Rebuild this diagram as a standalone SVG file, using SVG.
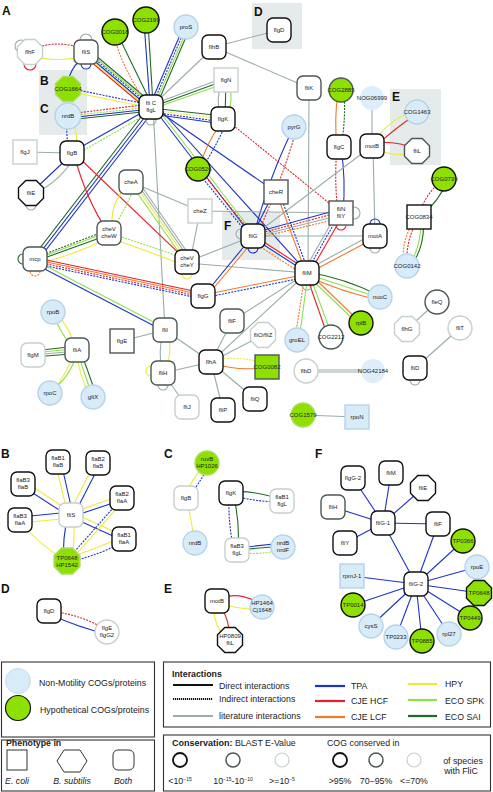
<svg xmlns="http://www.w3.org/2000/svg" xmlns:xlink="http://www.w3.org/1999/xlink" width="493" height="792" viewBox="0 0 493 792">
<style>
.n{fill:#fff;stroke-width:1.4}
.k{stroke:#111}
.m{stroke:#4d5856}
.w{stroke:#c6d0ce}
.lb{fill:#d8ebf8;stroke:#b7d3e8}
.nb{fill:#ddeefa;stroke:none}
.gr{fill:#8ee000}
.gl{stroke:#b0dc68}
.t{font-family:"Liberation Sans",Arial,sans-serif;font-size:6px;fill:#222;text-anchor:middle}
.P{font-family:"Liberation Sans",Arial,sans-serif;font-weight:bold;font-size:12px;fill:#111}
.L{font-family:"Liberation Sans",Arial,sans-serif;font-size:8.8px;fill:#222}
.e{fill:none;stroke-width:1.1}
.tpa{stroke:#1e34c4}
.hcf{stroke:#e52229}
.lcf{stroke:#f07a2c}
.hpy{stroke:#eeea3c}
.spk{stroke:#8fe04c}
.sai{stroke:#206a26}
.lit{stroke:#9aadaa}
.ds{stroke-dasharray:2 1.2}
.box{fill:#e5ebeb}
</style>
<defs>
<rect id="rs" x="-12" y="-12" width="24" height="24" rx="6"/>
<rect id="sq" x="-12" y="-12" width="24" height="24"/>
<polygon id="oct" points="-5.2,-12.5 5.2,-12.5 12.5,-5.2 12.5,5.2 5.2,12.5 -5.2,12.5 -12.5,5.2 -12.5,-5.2"/>
</defs>
<rect width="493" height="792" fill="#fff"/>
<g id="panels">
<rect class="box" x="252" y="3" width="50" height="46"/>
<rect class="box" x="39" y="70" width="48" height="65"/>
<rect class="box" x="390" y="89" width="51" height="76"/>
<rect class="box" x="222" y="212" width="58" height="48"/>
<text class="P" x="2" y="15">A</text>
<text class="P" x="40" y="85" font-size="11">B</text>
<text class="P" x="40" y="113" font-size="11">C</text>
<text class="P" x="254" y="16" font-size="11">D</text>
<text class="P" x="392" y="101" font-size="11">E</text>
<text class="P" x="224" y="230" font-size="11">F</text>
<text class="P" x="1" y="458">B</text>
<text class="P" x="164" y="458">C</text>
<text class="P" x="1" y="593">D</text>
<text class="P" x="164" y="593">E</text>
<text class="P" x="315" y="458">F</text>
</g>
<g id="connectors">
<path class="e hcf ds" d="M30,50 Q58,38 86,50"/>
<path class="e hpy" d="M30,55 Q58,64 86,55"/>
<circle class="e lit" cx="21" cy="46" r="6"/>
<circle class="e hcf" cx="30" cy="64" r="6"/>
<circle class="e lit" cx="86" cy="40" r="6"/>
<circle class="e tpa" cx="86" cy="64" r="5"/>
<path class="e tpa" d="M80,60 Q70,70 68,82"/>
<line class="e hcf" x1="83" y1="55" x2="148" y2="110"/>
<line class="e hpy" x1="84" y1="54" x2="149" y2="109"/>
<line class="e tpa" x1="85" y1="53" x2="150" y2="108"/>
<line class="e tpa ds" x1="86" y1="51.5" x2="151" y2="106.5"/>
<line class="e spk" x1="87" y1="50.5" x2="152" y2="105.5"/>
<line class="e sai" x1="88" y1="49" x2="153" y2="104"/>
<path class="e lcf ds" d="M113,34 Q125,75 149,106"/>
<line class="e sai" x1="117" y1="33" x2="152" y2="105"/>
<line class="e tpa" x1="144" y1="22" x2="150" y2="105"/>
<line class="e sai" x1="148" y1="22" x2="153" y2="105"/>
<line class="e tpa" x1="183" y1="28" x2="150" y2="105"/>
<line class="e tpa ds" x1="185" y1="29" x2="152" y2="106"/>
<line class="e spk" x1="187" y1="30" x2="154" y2="106"/>
<line class="e sai" x1="189" y1="30" x2="156" y2="107"/>
<line class="e lit" x1="214" y1="47" x2="151" y2="107"/>
<line class="e lit" x1="214" y1="47" x2="279" y2="30"/>
<line class="e lit" x1="214" y1="47" x2="309" y2="88"/>
<line class="e lit" x1="309" y1="88" x2="308" y2="273"/>
<line class="e lit" x1="226" y1="77" x2="151" y2="105"/>
<line class="e sai" x1="226" y1="80" x2="152" y2="107"/>
<line class="e spk" x1="226" y1="83" x2="152" y2="109"/>
<path class="e lit" d="M222,80 Q215,100 221,119"/>
<line class="e sai" x1="226" y1="80" x2="225" y2="119"/>
<path class="e spk" d="M229,80 Q234,100 227,119"/>
<line class="e sai" x1="223" y1="116" x2="151" y2="108"/>
<line class="e hpy ds" x1="223" y1="119" x2="151" y2="110"/>
<line class="e tpa ds" x1="223" y1="122" x2="151" y2="112"/>
<line class="e tpa" x1="223" y1="124" x2="152" y2="114"/>
<line class="e tpa ds" x1="68" y1="88" x2="151" y2="105"/>
<line class="e hpy" x1="68" y1="91" x2="151" y2="108"/>
<line class="e hcf ds" x1="68" y1="114" x2="151" y2="104"/>
<line class="e spk ds" x1="68" y1="116" x2="151" y2="107"/>
<line class="e tpa" x1="68" y1="118" x2="151" y2="109"/>
<line class="e sai" x1="68" y1="120" x2="151" y2="111"/>
<line class="e tpa ds" x1="66" y1="118" x2="68" y2="153"/>
<path class="e hpy" d="M71,118 Q80,135 75,153"/>
<line class="e lit" x1="25" y1="152" x2="72" y2="153"/>
<path class="e tpa" d="M70,156 Q55,170 32,192"/>
<path class="e lit" d="M74,157 Q62,180 34,194"/>
<circle class="e lit" cx="31" cy="205" r="5"/>
<line class="e tpa" x1="150" y1="108" x2="72" y2="152"/>
<line class="e spk ds" x1="152" y1="111" x2="74" y2="156"/>
<line class="e sai" x1="148" y1="108" x2="33" y2="257"/>
<line class="e tpa" x1="151" y1="109" x2="36" y2="258"/>
<line class="e tpa" x1="154" y1="110" x2="39" y2="259"/>
<line class="e lit" x1="153" y1="107" x2="165" y2="330"/>
<circle class="e lit" cx="151" cy="120" r="5"/>
<line class="e tpa" x1="155" y1="110" x2="251" y2="235"/>
<line class="e spk" x1="157" y1="108" x2="253" y2="233"/>
<line class="e tpa" x1="158" y1="107" x2="306" y2="271"/>
<line class="e tpa" x1="157" y1="110" x2="276" y2="192"/>
<path class="e lcf" d="M219,126 Q206,145 199,168"/>
<path class="e tpa ds" d="M225,126 Q214,150 202,168"/>
<line class="e hcf ds" x1="228" y1="121" x2="340" y2="212"/>
<line class="e hcf ds" x1="200" y1="170" x2="253" y2="235"/>
<line class="e tpa ds" x1="197" y1="171" x2="250" y2="237"/>
<path class="e tpa" d="M292,131 Q270,175 254,234"/>
<path class="e hcf ds" d="M296,131 Q282,180 257,235"/>
<path class="e hcf" d="M74,154 Q86,200 108,232"/>
<line class="e hcf" x1="74" y1="153" x2="187" y2="261"/>
<line class="e lit" x1="131" y1="182" x2="200" y2="211"/>
<path class="e hpy" d="M127,186 Q108,205 113,232"/>
<path class="e spk ds" d="M135,186 Q125,210 111,232"/>
<line class="e spk" x1="131" y1="184" x2="185" y2="261"/>
<line class="e hpy" x1="134" y1="183" x2="188" y2="261"/>
<line class="e lit" x1="136" y1="182" x2="190" y2="260"/>
<line class="e lit" x1="138" y1="181" x2="192" y2="259"/>
<line class="e lit" x1="200" y1="211" x2="190" y2="262"/>
<line class="e lit" x1="200" y1="211" x2="341" y2="213"/>
<line class="e sai ds" x1="108" y1="230" x2="37" y2="257"/>
<line class="e spk" x1="108" y1="232" x2="36" y2="259"/>
<line class="e sai" x1="108" y1="235" x2="36" y2="261"/>
<path class="e hpy" d="M110,237 Q75,255 37,264"/>
<line class="e spk ds" x1="110" y1="233" x2="187" y2="259"/>
<path class="e hpy" d="M110,238 Q150,252 186,266"/>
<line class="e hcf" x1="37" y1="258" x2="203" y2="293"/>
<line class="e lcf" x1="37" y1="260" x2="203" y2="295"/>
<line class="e hcf ds" x1="37" y1="262" x2="203" y2="297"/>
<line class="e tpa ds" x1="37" y1="264" x2="203" y2="299"/>
<line class="e tpa" x1="37" y1="265" x2="164" y2="331"/>
<line class="e spk" x1="38" y1="262" x2="165" y2="328"/>
<circle class="e sai" cx="23" cy="259" r="5"/>
<circle class="e lcf ds" cx="35" cy="271" r="5"/>
<circle class="e hpy" cx="187" cy="274" r="5"/>
<line class="e lit" x1="187" y1="262" x2="253" y2="236"/>
<line class="e lit" x1="187" y1="263" x2="307" y2="273"/>
<line class="e tpa" x1="205" y1="294" x2="251" y2="238"/>
<line class="e lcf" x1="207" y1="296" x2="254" y2="240"/>
<line class="e lcf" x1="203" y1="295" x2="307" y2="274"/>
<line class="e tpa ds" x1="203" y1="298" x2="307" y2="277"/>
<circle class="e tpa" cx="253" cy="248" r="5"/>
<circle class="e lit" cx="241" cy="234" r="5"/>
<line class="e tpa" x1="253" y1="233" x2="341" y2="209"/>
<line class="e hcf ds" x1="253" y1="235" x2="341" y2="212"/>
<line class="e lit" x1="253" y1="237" x2="341" y2="215"/>
<line class="e lcf ds" x1="253" y1="239" x2="341" y2="218"/>
<line class="e lit" x1="253" y1="236" x2="375" y2="236"/>
<line class="e tpa" x1="253" y1="238" x2="306" y2="272"/>
<line class="e hcf" x1="256" y1="237" x2="309" y2="271"/>
<line class="e lcf ds" x1="250" y1="240" x2="304" y2="275"/>
<circle class="e lit" cx="354" cy="213" r="6"/>
<circle class="e hcf" cx="341" cy="225" r="5"/>
<line class="e tpa ds" x1="340" y1="213" x2="306" y2="273"/>
<line class="e hcf" x1="343" y1="215" x2="309" y2="274"/>
<line class="e lit" x1="337" y1="213" x2="304" y2="271"/>
<path class="e hcf ds" d="M337,148 Q334,180 338,212"/>
<path class="e tpa" d="M341,148 Q346,180 343,212"/>
<path class="e lcf" d="M338,92 Q334,120 337,146"/>
<path class="e sai ds" d="M344,92 Q346,120 341,146"/>
<line class="e lit" x1="372" y1="98" x2="372" y2="146"/>
<path class="e hpy" d="M374,142 Q390,118 417,110"/>
<path class="e hcf" d="M376,146 Q395,128 417,114"/>
<path class="e hcf" d="M372,143 Q395,140 417,149"/>
<path class="e hpy" d="M372,148 Q395,158 417,153"/>
<line class="e lit" x1="373" y1="146" x2="375" y2="236"/>
<line class="e lit" x1="372" y1="146" x2="253" y2="236"/>
<circle class="e tpa" cx="375" cy="224" r="5"/>
<circle class="e lit" cx="375" cy="248" r="5"/>
<line class="e lcf" x1="375" y1="238" x2="307" y2="274"/>
<line class="e lit" x1="373" y1="234" x2="305" y2="271"/>
<line class="e lcf" x1="276" y1="192" x2="306" y2="273"/>
<line class="e tpa ds" x1="279" y1="192" x2="309" y2="273"/>
<line class="e tpa" x1="274" y1="192" x2="252" y2="236"/>
<path class="e sai" d="M307,272 Q345,278 380,296"/>
<line class="e spk" x1="307" y1="274" x2="380" y2="298"/>
<path class="e lcf" d="M307,276 Q342,292 379,300"/>
<line class="e lcf" x1="308" y1="272" x2="360" y2="322"/>
<line class="e spk" x1="306" y1="274" x2="358" y2="324"/>
<line class="e hcf" x1="306" y1="274" x2="328" y2="337"/>
<line class="e spk" x1="309" y1="273" x2="332" y2="336"/>
<line class="e lcf ds" x1="305" y1="274" x2="295" y2="339"/>
<line class="e spk" x1="308" y1="274" x2="299" y2="340"/>
<line class="e lit" x1="307" y1="273" x2="232" y2="321"/>
<line class="e lit" x1="307" y1="273" x2="211" y2="362"/>
<circle class="e lit" cx="307" cy="285" r="5"/>
<path class="e hcf ds" d="M441,181 Q425,195 418,216"/>
<path class="e sai" d="M447,181 Q440,200 421,216"/>
<path class="e lcf ds" d="M416,218 Q400,240 404,266"/>
<path class="e hcf ds" d="M418,218 Q405,242 407,266"/>
<path class="e spk" d="M421,218 Q422,245 409,266"/>
<path class="e sai" d="M423,218 Q426,245 411,266"/>
<path class="e hpy" d="M55,312 Q72,330 76,350"/>
<path class="e spk" d="M52,313 Q62,335 74,350"/>
<line class="e sai" x1="33" y1="351" x2="77" y2="346"/>
<line class="e spk" x1="33" y1="353" x2="77" y2="348.5"/>
<line class="e lit" x1="33" y1="355" x2="77" y2="351"/>
<line class="e sai" x1="33" y1="357" x2="77" y2="353.5"/>
<path class="e hpy" d="M76,351 Q65,375 53,392"/>
<path class="e spk" d="M78,351 Q70,378 50,392"/>
<path class="e hpy" d="M76,351 Q80,378 90,396"/>
<path class="e spk" d="M78,351 Q85,378 93,396"/>
<path class="e sai" d="M80,351 Q90,375 96,396"/>
<line class="e lit" x1="122" y1="341" x2="165" y2="330"/>
<path class="e lit" d="M163,330 Q158,352 162,373"/>
<path class="e hpy" d="M167,330 Q174,352 164,373"/>
<circle class="e hpy" cx="151" cy="371" r="5"/>
<circle class="e lit" cx="163" cy="385" r="5"/>
<line class="e lit" x1="163" y1="373" x2="211" y2="362"/>
<line class="e lit" x1="163" y1="373" x2="187" y2="407"/>
<line class="e lit" x1="165" y1="330" x2="211" y2="362"/>
<line class="e lit" x1="211" y1="362" x2="232" y2="321"/>
<line class="e lit" x1="211" y1="362" x2="223" y2="410"/>
<line class="e lit" x1="211" y1="362" x2="255" y2="399"/>
<line class="e lit" x1="211" y1="362" x2="263" y2="335"/>
<path class="e lcf" d="M211,363 Q240,372 267,367"/>
<path class="e hpy ds" d="M211,360 Q240,355 267,364"/>
<line class="e lit" x1="306" y1="370" x2="373" y2="370"/>
<line class="e lit" x1="306" y1="372" x2="373" y2="372"/>
<circle class="e lit" cx="415" cy="380" r="5"/>
<line class="e lit" x1="415" y1="368" x2="460" y2="328"/>
<line class="e lit" x1="437" y1="302" x2="407" y2="329"/>
<line class="e lit" x1="303" y1="415" x2="357" y2="417"/>
<!-- B -->
<line class="e hpy" x1="68" y1="515" x2="55" y2="462"/>
<line class="e tpa" x1="73" y1="515" x2="61" y2="462"/>
<line class="e hpy" x1="69" y1="514" x2="95" y2="462"/>
<line class="e tpa" x1="74" y1="515" x2="100" y2="464"/>
<line class="e hpy" x1="71" y1="512" x2="24" y2="481"/>
<line class="e tpa" x1="70" y1="517" x2="22" y2="486"/>
<line class="e hpy" x1="71" y1="513" x2="122" y2="495"/>
<line class="e tpa" x1="71" y1="517" x2="122" y2="500"/>
<line class="e tpa" x1="71" y1="512" x2="20" y2="517"/>
<line class="e hpy" x1="71" y1="518" x2="20" y2="523"/>
<line class="e hpy" x1="71" y1="512" x2="124" y2="536"/>
<line class="e tpa" x1="71" y1="517" x2="124" y2="541"/>
<path class="e tpa" d="M68,515 Q62,540 64,561"/>
<path class="e hpy" d="M73,515 Q76,540 71,561"/>
<path class="e hpy" d="M66,561 Q40,545 20,522"/>
<path class="e tpa ds" d="M69,562 Q100,555 124,541"/>
<path class="e hpy" d="M68,558 Q98,548 122,537"/>
<line class="e tpa ds" x1="68" y1="559" x2="121" y2="499"/>
<line class="e hpy" x1="71" y1="560" x2="124" y2="500"/>
<!-- C -->
<path class="e hpy" d="M205,465 Q190,480 185,498"/>
<path class="e tpa ds" d="M209,466 Q198,485 189,497"/>
<line class="e hpy" x1="187" y1="498" x2="195" y2="543"/>
<path class="e sai" d="M231,492 Q255,490 282,500"/>
<path class="e tpa ds" d="M231,495 Q256,502 282,502"/>
<path class="e tpa ds" d="M229,494 Q228,525 234,549"/>
<path class="e sai" d="M233,494 Q240,520 238,549"/>
<line class="e tpa" x1="237" y1="548" x2="283" y2="543"/>
<line class="e sai" x1="237" y1="550" x2="283" y2="546"/>
<path class="e spk ds" d="M237,552 Q260,556 283,549"/>
<!-- D -->
<path class="e hcf ds" d="M49,611 Q80,614 107,630"/>
<path class="e tpa" d="M49,614 Q80,628 107,634"/>
<!-- E -->
<path class="e hcf" d="M217,599 Q240,590 262,605"/>
<path class="e hpy" d="M217,603 Q240,610 262,609"/>
<path class="e hcf" d="M219,603 Q230,620 230,640"/>
<path class="e hpy" d="M214,603 Q212,625 228,640"/>
<!-- F -->
<g class="e tpa">
<line x1="383" y1="523" x2="353" y2="478"/>
<line x1="383" y1="523" x2="391" y2="473"/>
<line x1="383" y1="523" x2="423" y2="488"/>
<line x1="383" y1="523" x2="333" y2="507"/>
<line x1="383" y1="523" x2="438" y2="524"/>
<line x1="383" y1="523" x2="345" y2="543"/>
<line x1="383" y1="523" x2="416" y2="584"/>
<line x1="416" y1="584" x2="463" y2="541"/>
<line x1="416" y1="584" x2="477" y2="567"/>
<line x1="416" y1="584" x2="352" y2="576"/>
<line x1="416" y1="584" x2="479" y2="593"/>
<line x1="416" y1="584" x2="353" y2="605"/>
<line x1="416" y1="584" x2="470" y2="618"/>
<line x1="416" y1="584" x2="371" y2="626"/>
<line x1="416" y1="584" x2="396" y2="637"/>
<line x1="416" y1="584" x2="422" y2="641"/>
<line x1="416" y1="584" x2="449" y2="634"/>
<line x1="416" y1="584" x2="438" y2="524"/>
</g>
</g>
<!-- Panel A nodes -->
<g id="flhF"><use href="#oct" x="30" y="52" class="n w"/><text class="t" x="30" y="54">flhF</text></g>
<g id="fliS"><use href="#rs" x="86" y="52" class="n m"/><text class="t" x="86" y="54">fliS</text></g>
<g id="COG0018"><circle cx="115" cy="32" r="13" class="n gr k"/><text class="t" x="115" y="34">COG0018</text></g>
<g id="COG2199"><circle cx="146" cy="20" r="13" class="n gr k"/><text class="t" x="146" y="22">COG2199</text></g>
<g id="proS"><circle cx="186" cy="27" r="12" class="n lb"/><text class="t" x="186" y="29">proS</text></g>
<g id="flhB"><use href="#rs" x="214" y="47" class="n k"/><text class="t" x="214" y="49">flhB</text></g>
<g id="flgD"><use href="#rs" x="279" y="30" class="n k"/><text class="t" x="279" y="32">flgD</text></g>
<g id="fliK"><use href="#rs" x="309" y="88" class="n m"/><text class="t" x="309" y="90">fliK</text></g>
<g id="COG2885"><circle cx="341" cy="90" r="12" class="n gr m"/><text class="t" x="341" y="92">COG2885</text></g>
<g id="NOG06999"><circle cx="372" cy="98" r="12" class="n nb"/><text class="t" x="372" y="100">NOG06999</text></g>
<g id="COG1463"><circle cx="417" cy="112" r="12" class="n lb"/><text class="t" x="417" y="114">COG1463</text></g>
<g id="fliL"><use href="#oct" x="417" y="151" class="n m"/><text class="t" x="417" y="153">fliL</text></g>
<g id="motB"><use href="#rs" x="372" y="146" class="n k"/><text class="t" x="372" y="148">motB</text></g>
<g id="flgC"><use href="#rs" x="339" y="147" class="n k"/><text class="t" x="339" y="149">flgC</text></g>
<g id="pyrG"><circle cx="294" cy="127" r="12" class="n lb"/><text class="t" x="294" y="129">pyrG</text></g>
<g id="flgN"><use href="#sq" x="226" y="80" class="n w"/><text class="t" x="226" y="82">flgN</text></g>
<g id="flgK"><use href="#rs" x="223" y="119" class="n k"/><text class="t" x="223" y="121">flgK</text></g>
<g id="fliC"><use href="#rs" x="151" y="107" class="n k"/><text class="t" x="151" y="105">fli C<tspan x="151" dy="7">flgL</tspan></text></g>
<g id="COG1664"><use href="#oct" x="68" y="89" class="n gr gl"/><text class="t" x="68" y="91">COG1664</text></g>
<g id="nrdB"><circle cx="68" cy="116" r="13" class="n lb"/><text class="t" x="68" y="118">nrdB</text></g>
<g id="flgJ"><use href="#sq" x="25" y="152" class="n w"/><text class="t" x="25" y="154">flgJ</text></g>
<g id="flgB"><use href="#rs" x="72" y="153" class="n k"/><text class="t" x="72" y="155">flgB</text></g>
<g id="fliE"><use href="#oct" x="31" y="193" class="n k"/><text class="t" x="31" y="195">fliE</text></g>
<g id="COG0526"><circle cx="198" cy="169" r="12" class="n gr k"/><text class="t" x="198" y="171">COG0526</text></g>
<g id="cheA"><use href="#rs" x="131" y="182" class="n m"/><text class="t" x="131" y="184">cheA</text></g>
<g id="cheZ"><use href="#sq" x="200" y="211" class="n w"/><text class="t" x="200" y="213">cheZ</text></g>
<g id="cheR"><use href="#sq" x="276" y="192" class="n m"/><text class="t" x="276" y="194">cheR</text></g>
<g id="fliN"><use href="#sq" x="341" y="213" class="n m" stroke-width="1.8"/><text class="t" x="341" y="211">fliN<tspan x="341" dy="7">fliY</tspan></text></g>
<g id="motA"><use href="#rs" x="375" y="236" class="n k"/><text class="t" x="375" y="238">motA</text></g>
<g id="fliG"><use href="#rs" x="253" y="236" class="n k"/><text class="t" x="253" y="238">fliG</text></g>
<g id="cheVW"><use href="#rs" x="109" y="233" class="n m"/><text class="t" x="109" y="231">cheV<tspan x="109" dy="7">cheW</tspan></text></g>
<g id="mcp"><use href="#rs" x="35" y="259" class="n m"/><text class="t" x="35" y="261">mcp</text></g>
<g id="cheVY"><use href="#rs" x="187" y="262" class="n k"/><text class="t" x="187" y="260">cheV<tspan x="187" dy="7">cheY</tspan></text></g>
<g id="flgG"><use href="#rs" x="203" y="296" class="n k"/><text class="t" x="203" y="298">flgG</text></g>
<g id="fliM"><use href="#rs" x="307" y="273" class="n k"/><text class="t" x="307" y="275">fliM</text></g>
<g id="COG0739"><circle cx="444" cy="179" r="12" class="n gr k"/><text class="t" x="444" y="181">COG0739</text></g>
<g id="COG0834"><use href="#sq" x="419" y="217" class="n k"/><text class="t" x="419" y="219">COG0834</text></g>
<g id="COG0142"><circle cx="407" cy="266" r="12" class="n lb"/><text class="t" x="407" y="268">COG0142</text></g>
<g id="nuoC"><circle cx="380" cy="297" r="12" class="n lb"/><text class="t" x="380" y="299">nuoC</text></g>
<g id="fleQ"><circle cx="437" cy="302" r="12" class="n m"/><text class="t" x="437" y="304">fleQ</text></g>
<g id="rpoB"><circle cx="53" cy="312" r="12" class="n lb"/><text class="t" x="53" y="314">rpoB</text></g>
<g id="flgM"><use href="#rs" x="33" y="355" class="n w"/><text class="t" x="33" y="357">flgM</text></g>
<g id="fliA"><use href="#rs" x="77" y="350" class="n m"/><text class="t" x="77" y="352">fliA</text></g>
<g id="rpoC"><circle cx="50" cy="393" r="12" class="n lb"/><text class="t" x="50" y="395">rpoC</text></g>
<g id="gltX"><circle cx="93" cy="397" r="12" class="n lb"/><text class="t" x="93" y="399">gltX</text></g>
<g id="flgE"><use href="#sq" x="122" y="341" class="n m"/><text class="t" x="122" y="343">flgE</text></g>
<g id="fliI"><use href="#rs" x="165" y="330" class="n m"/><text class="t" x="165" y="332">fliI</text></g>
<g id="fliH"><use href="#rs" x="163" y="373" class="n m"/><text class="t" x="163" y="375">fliH</text></g>
<g id="fliJ"><use href="#rs" x="187" y="407" class="n w"/><text class="t" x="187" y="409">fliJ</text></g>
<g id="flhA"><use href="#rs" x="211" y="362" class="n k"/><text class="t" x="211" y="364">flhA</text></g>
<g id="fliF"><use href="#rs" x="232" y="321" class="n m"/><text class="t" x="232" y="323">fliF</text></g>
<g id="fliP"><use href="#rs" x="223" y="410" class="n k"/><text class="t" x="223" y="412">fliP</text></g>
<g id="fliOZ"><use href="#oct" x="263" y="335" class="n w"/><text class="t" x="263" y="337">fliO/fliZ</text></g>
<g id="groEL"><circle cx="297" cy="340" r="12" class="n lb"/><text class="t" x="297" y="342">groEL</text></g>
<g id="COG2212"><circle cx="331" cy="337" r="12" class="n m"/><text class="t" x="331" y="339">COG2212</text></g>
<g id="rplB"><circle cx="361" cy="323" r="12" class="n gr k"/><text class="t" x="361" y="325">rplB</text></g>
<g id="COG0082"><use href="#sq" x="267" y="367" class="n gr m"/><text class="t" x="267" y="369">COG0082</text></g>
<g id="flbD"><circle cx="306" cy="371" r="12" class="n w"/><text class="t" x="306" y="373">flbD</text></g>
<g id="NOG42184"><circle cx="373" cy="371" r="12" class="n nb"/><text class="t" x="373" y="373">NOG42184</text></g>
<g id="fliD"><use href="#rs" x="415" y="368" class="n k"/><text class="t" x="415" y="370">fliD</text></g>
<g id="fliQ"><use href="#rs" x="255" y="399" class="n k"/><text class="t" x="255" y="401">fliQ</text></g>
<g id="COG1579"><circle cx="303" cy="415" r="12" class="n gr" stroke="#b0dc68"/><text class="t" x="303" y="417">COG1579</text></g>
<g id="rpoN"><use href="#sq" x="357" y="417" class="n lb" stroke="#a9c7dc"/><text class="t" x="357" y="419">rpoN</text></g>
<g id="flhG"><use href="#oct" x="407" y="329" class="n w"/><text class="t" x="407" y="331">flhG</text></g>
<g id="fliT"><circle cx="460" cy="328" r="12" class="n w"/><text class="t" x="460" y="330">fliT</text></g>
<!-- Panel B nodes -->
<g id="B_fliS"><use href="#rs" x="71" y="515" class="n w"/><text class="t" x="71" y="517">fliS</text></g>
<g id="B_flaB1_flaB"><use href="#rs" x="58" y="462" class="n k"/><text class="t" x="58" y="460">flaB1<tspan x="58" dy="7">flaB</tspan></text></g>
<g id="B_flaB2_flaB"><use href="#rs" x="98" y="463" class="n k"/><text class="t" x="98" y="461">flaB2<tspan x="98" dy="7">flaB</tspan></text></g>
<g id="B_flaB3_flaB"><use href="#rs" x="23" y="484" class="n k"/><text class="t" x="23" y="482">flaB3<tspan x="23" dy="7">flaB</tspan></text></g>
<g id="B_flaB2_flaA"><use href="#rs" x="122" y="498" class="n k"/><text class="t" x="122" y="496">flaB2<tspan x="122" dy="7">flaA</tspan></text></g>
<g id="B_flaB3_flaA"><use href="#rs" x="20" y="520" class="n k"/><text class="t" x="20" y="518">flaB3<tspan x="20" dy="7">flaA</tspan></text></g>
<g id="B_flaB1_flaA"><use href="#rs" x="124" y="539" class="n k"/><text class="t" x="124" y="537">flaB1<tspan x="124" dy="7">flaA</tspan></text></g>
<g id="B_TP0648"><polygon points="61.5,548 72.5,548 80,555.5 80,566.5 72.5,574 61.5,574 54,566.5 54,555.5" class="n gr gl"/><text class="t" x="67" y="560">TP0648<tspan x="67" dy="7">HP1542</tspan></text></g>
<!-- Panel C nodes -->
<g id="C_ruvB"><circle cx="207" cy="463" r="12" class="n gr" stroke="#b0dc68"/><text class="t" x="207" y="461">ruvB<tspan x="207" dy="7">HP1026</tspan></text></g>
<g id="C_flgB"><use href="#rs" x="186" y="498" class="n w"/><text class="t" x="186" y="500">flgB</text></g>
<g id="C_nrdB"><circle cx="195" cy="543" r="12" class="n lb"/><text class="t" x="195" y="545">nrdB</text></g>
<g id="C_flgK"><use href="#rs" x="231" y="493" class="n k"/><text class="t" x="231" y="495">flgK</text></g>
<g id="C_flaB1_flgL"><use href="#rs" x="282" y="501" class="n w"/><text class="t" x="282" y="499">flaB1<tspan x="282" dy="7">flgL</tspan></text></g>
<g id="C_flaB3_flgL"><use href="#rs" x="237" y="550" class="n w"/><text class="t" x="237" y="548">flaB3<tspan x="237" dy="7">flgL</tspan></text></g>
<g id="C_nrdB_nrdF"><circle cx="283" cy="547" r="12" class="n lb"/><text class="t" x="283" y="545">nrdB<tspan x="283" dy="7">nrdF</tspan></text></g>
<!-- Panel D nodes -->
<g id="D_flgD"><use href="#rs" x="49" y="611" class="n k"/><text class="t" x="49" y="613">flgD</text></g>
<g id="D_flgE"><circle cx="107" cy="632" r="12" class="n w"/><text class="t" x="107" y="630">flgE<tspan x="107" dy="7">flgG2</tspan></text></g>
<!-- Panel E nodes -->
<g id="E_motB"><use href="#rs" x="217" y="601" class="n k"/><text class="t" x="217" y="603">motB</text></g>
<g id="E_HP1464"><circle cx="262" cy="607" r="12" class="n lb"/><text class="t" x="262" y="605">HP1464<tspan x="262" dy="7">Cj1648</tspan></text></g>
<g id="E_HP0809"><use href="#oct" x="230" y="640" class="n k"/><text class="t" x="230" y="638">HP0809<tspan x="230" dy="7">fliL</tspan></text></g>
<!-- Panel F nodes -->
<g id="F_flgG2"><use href="#rs" x="353" y="478" class="n k"/><text class="t" x="353" y="480">flgG-2</text></g>
<g id="F_fliM"><use href="#rs" x="391" y="473" class="n k"/><text class="t" x="391" y="475">fliM</text></g>
<g id="F_fliE"><use href="#oct" x="423" y="488" class="n k"/><text class="t" x="423" y="490">fliE</text></g>
<g id="F_fliH"><use href="#rs" x="333" y="507" class="n m"/><text class="t" x="333" y="509">fliH</text></g>
<g id="F_fliG1"><use href="#rs" x="383" y="523" class="n k"/><text class="t" x="383" y="525">fliG-1</text></g>
<g id="F_fliF"><use href="#rs" x="438" y="524" class="n k"/><text class="t" x="438" y="526">fliF</text></g>
<g id="F_fliY"><use href="#rs" x="345" y="543" class="n k"/><text class="t" x="345" y="545">fliY</text></g>
<g id="F_TP0366"><circle cx="463" cy="541" r="12" class="n gr k"/><text class="t" x="463" y="543">TP0366</text></g>
<g id="F_rpoE"><circle cx="477" cy="567" r="12" class="n lb"/><text class="t" x="477" y="569">rpoE</text></g>
<g id="F_rpmJ1"><use href="#sq" x="352" y="576" class="n lb" stroke="#a9c7dc"/><text class="t" x="352" y="578">rpmJ-1</text></g>
<g id="F_fliG2"><use href="#rs" x="416" y="584" class="n k"/><text class="t" x="416" y="586">fliG-2</text></g>
<g id="F_TP0648"><use href="#oct" x="479" y="593" class="n gr k"/><text class="t" x="479" y="595">TP0648</text></g>
<g id="F_TP0014"><circle cx="353" cy="605" r="12" class="n gr k"/><text class="t" x="353" y="607">TP0014</text></g>
<g id="F_TP0449"><circle cx="470" cy="618" r="12" class="n gr k"/><text class="t" x="470" y="620">TP0449</text></g>
<g id="F_cysS"><circle cx="371" cy="626" r="12" class="n lb"/><text class="t" x="371" y="628">cysS</text></g>
<g id="F_TP0233"><circle cx="396" cy="637" r="12" class="n lb"/><text class="t" x="396" y="639">TP0233</text></g>
<g id="F_rpl27"><circle cx="449" cy="634" r="12" class="n lb"/><text class="t" x="449" y="636">rpl27</text></g>
<g id="F_TP0885"><circle cx="422" cy="641" r="12" class="n gr k"/><text class="t" x="422" y="643">TP0885</text></g>
<!-- Legend -->
<g id="legend">
<rect x="1.5" y="662" width="153" height="75" fill="none" stroke="#333" stroke-width="1.1"/>
<circle cx="18" cy="681" r="12.5" fill="#d8ebf8" stroke="#c4dcef"/>
<text class="L" x="39" y="686">Non-Motility COGs/proteins</text>
<circle cx="18" cy="708" r="12.5" fill="#8ee000" stroke="#111" stroke-width="1.2"/>
<text class="L" x="40" y="713">Hypothetical COGs/proteins</text>
<rect x="163.5" y="662" width="327" height="65" fill="none" stroke="#333" stroke-width="1.1"/>
<text class="L" x="172" y="677" font-weight="bold" font-size="9">Interactions</text>
<line x1="173" y1="685" x2="213" y2="685" stroke="#111" stroke-width="2.2"/>
<line x1="173" y1="699" x2="213" y2="699" stroke="#111" stroke-width="1.8" stroke-dasharray="1.2 0.8"/>
<line x1="173" y1="716" x2="213" y2="716" stroke="#9aadaa" stroke-width="2.2"/>
<text class="L" x="219" y="689">Direct interactions</text>
<text class="L" x="219" y="702">Indirect interactions</text>
<text class="L" x="219" y="719">literature interactions</text>
<line x1="315" y1="686" x2="345" y2="686" stroke="#1e34c4" stroke-width="2.2"/>
<line x1="315" y1="701" x2="345" y2="701" stroke="#e52229" stroke-width="2.2"/>
<line x1="315" y1="717" x2="345" y2="717" stroke="#f07a2c" stroke-width="2.2"/>
<text class="L" x="351" y="689">TPA</text>
<text class="L" x="351" y="704">CJE HCF</text>
<text class="L" x="351" y="720">CJE LCF</text>
<line x1="408" y1="684" x2="437" y2="684" stroke="#eeea3c" stroke-width="2.2"/>
<line x1="408" y1="700" x2="437" y2="700" stroke="#8fe04c" stroke-width="2.2"/>
<line x1="408" y1="716" x2="437" y2="716" stroke="#206a26" stroke-width="2.2"/>
<text class="L" x="445" y="687">HPY</text>
<text class="L" x="445" y="704">ECO SPK</text>
<text class="L" x="445" y="720">ECO SAI</text>
<rect x="1.5" y="740" width="153" height="51" fill="none" stroke="#333" stroke-width="1.1"/>
<text class="L" x="6" y="746" font-weight="bold" font-size="9">Phenotype in</text>
<rect x="7" y="750" width="20" height="20" fill="none" stroke="#333" stroke-width="1"/>
<polygon points="57,761 64,750 80,750 87,761 80,772 64,772" fill="none" stroke="#333" stroke-width="1"/>
<rect x="113" y="750" width="21" height="20" rx="5" fill="none" stroke="#333" stroke-width="1"/>
<text class="L" x="17" y="784" font-style="italic" text-anchor="middle" font-size="7.8">E. coli</text>
<text class="L" x="72" y="784" font-style="italic" text-anchor="middle" font-size="7.8">B. subtilis</text>
<text class="L" x="123" y="784" font-style="italic" text-anchor="middle" font-size="7.8">Both</text>
<rect x="163.5" y="735" width="327" height="56" fill="none" stroke="#333" stroke-width="1.1"/>
<text class="L" x="172" y="746"><tspan font-weight="bold" font-size="9">Conservation:</tspan> BLAST E-Value</text>
<text class="L" x="327" y="746">COG conserved in</text>
<circle cx="180" cy="760" r="7" fill="#fff" stroke="#111" stroke-width="1.8"/>
<circle cx="233" cy="760" r="7" fill="#fff" stroke="#4d5856" stroke-width="1.5"/>
<circle cx="282" cy="760" r="7" fill="#fff" stroke="#c6d0ce" stroke-width="1.2"/>
<circle cx="340" cy="760" r="7" fill="#fff" stroke="#111" stroke-width="1.8"/>
<circle cx="376" cy="760" r="7" fill="#fff" stroke="#4d5856" stroke-width="1.5"/>
<circle cx="414" cy="760" r="7" fill="#fff" stroke="#c6d0ce" stroke-width="1.2"/>
<text class="L" x="180" y="784" text-anchor="middle" font-size="8">&lt;10<tspan font-size="5" dy="-3">−15</tspan></text>
<text class="L" x="233" y="784" text-anchor="middle" font-size="8">10<tspan font-size="5" dy="-3">−15</tspan><tspan dy="3">-10</tspan><tspan font-size="5" dy="-3">−10</tspan></text>
<text class="L" x="282" y="784" text-anchor="middle" font-size="8">&gt;=10<tspan font-size="5" dy="-3">−5</tspan></text>
<text class="L" x="340" y="784" text-anchor="middle" font-size="8.3">&gt;95%</text>
<text class="L" x="376" y="784" text-anchor="middle" font-size="8.3">70−95%</text>
<text class="L" x="414" y="784" text-anchor="middle" font-size="8.3">&lt;=70%</text>
<text class="L" x="463" y="764" text-anchor="middle" font-size="8.5">of species</text>
<text class="L" x="461" y="774" text-anchor="middle" font-size="8.5">with FliC</text>
</g>
</svg>
